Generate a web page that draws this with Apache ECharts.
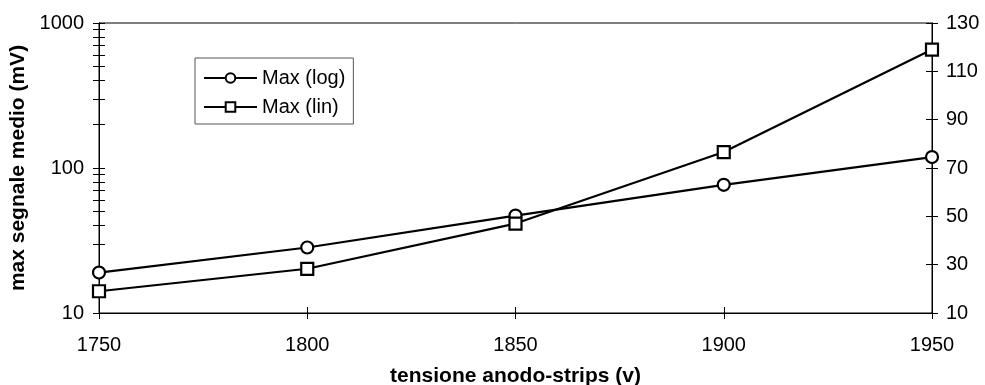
<!DOCTYPE html>
<html>
<head>
<meta charset="utf-8">
<script src="https://cdn.jsdelivr.net/npm/echarts@6/dist/echarts.min.js"></script>
<style>
  html, body { margin: 0; padding: 0; background: #ffffff; }
  #chart { width: 985px; height: 385px; }
</style>
</head>
<body>
<div id="chart"></div>
<script>
// Anode-strip voltage (V) and mean maximum signal (mV)
const voltages = [1750, 1800, 1850, 1900, 1950];
const maxSignal = [19, 28.3, 47, 76.6, 119];

// Tick positions for the logarithmic (left) axis: decades plus 2..9 subdivisions
const logLabelValues = [10, 100, 1000];
const logTickValues = [10, 20, 30, 40, 50, 60, 70, 80, 90,
                       100, 200, 300, 400, 500, 600, 700, 800, 900, 1000];

const FONT = "'Liberation Sans', Arial, Helvetica, sans-serif";
const points = voltages.map((v, i) => [v, maxSignal[i]]);

const tickStyle = { color: '#000', width: 1 };

function xAxisBase(extra) {
  return Object.assign({
    type: 'value', position: 'bottom', gridIndex: 0,
    min: 1750, max: 1950, interval: 50,
    splitLine: { show: false },
    axisLine: { show: true, lineStyle: { color: '#000', width: 1 } }
  }, extra);
}
function logAxisBase(extra) {
  return Object.assign({
    type: 'log', logBase: 10, position: 'left',
    min: 10, max: 1000,
    splitLine: { show: false },
    minorTick: { show: false },
    axisLine: { show: true, lineStyle: { color: '#000', width: 1 } }
  }, extra);
}
function linAxisBase(extra) {
  return Object.assign({
    type: 'value', position: 'right',
    min: 10, max: 130, interval: 20,
    splitLine: { show: false },
    axisLine: { show: true, lineStyle: { color: '#000', width: 1 } }
  }, extra);
}

const chart = echarts.init(document.getElementById('chart'), null, { renderer: 'canvas' });

chart.setOption({
  backgroundColor: '#ffffff',
  animation: false,
  textStyle: { fontFamily: FONT, color: '#000' },
  grid: {
    left: 99, right: 53, top: 23, bottom: 72,
    containLabel: false,
    outerBoundsMode: 'none',
    show: true, borderColor: '#000', borderWidth: 1, backgroundColor: 'transparent'
  },
  legend: {
    orient: 'vertical',
    left: 195, top: 58,
    backgroundColor: '#fff',
    borderColor: '#555', borderWidth: 1,
    padding: [10, 8, 7, 8],
    itemWidth: 53, itemHeight: 12, itemGap: 9,
    textStyle: { fontFamily: FONT, fontSize: 20, color: '#000' },
    data: ['Max (log)', 'Max (lin)']
  },
  xAxis: [
    xAxisBase({
      name: 'tensione anodo-strips (v)',
      nameLocation: 'middle', nameGap: 53,
      nameTextStyle: { fontFamily: FONT, fontSize: 21, fontWeight: 'bold', color: '#000' },
      axisTick: { show: true, inside: false, length: 6, lineStyle: tickStyle },
      axisLabel: { show: true, margin: 22, fontFamily: FONT, fontSize: 20, color: '#000',
                   formatter: v => String(v) }
    }),
    xAxisBase({
      axisTick: { show: true, inside: true, length: 6, lineStyle: tickStyle },
      axisLabel: { show: false }
    })
  ],
  yAxis: [
    logAxisBase({
      name: 'max segnale medio (mV)',
      nameLocation: 'middle', nameGap: 63,
      nameTextStyle: { fontFamily: FONT, fontSize: 21, fontWeight: 'bold', color: '#000' },
      axisTick: { show: true, inside: false, length: 6, lineStyle: tickStyle,
                  customValues: logTickValues },
      axisLabel: { show: true, margin: 15, fontFamily: FONT, fontSize: 20, color: '#000',
                   customValues: logLabelValues, formatter: v => String(v) }
    }),
    logAxisBase({
      axisTick: { show: true, inside: true, length: 6, lineStyle: tickStyle,
                  customValues: logTickValues },
      axisLabel: { show: false }
    }),
    linAxisBase({
      axisTick: { show: true, inside: false, length: 6, lineStyle: tickStyle },
      axisLabel: { show: true, margin: 14, fontFamily: FONT, fontSize: 20, color: '#000',
                   formatter: v => String(v) }
    }),
    linAxisBase({
      axisTick: { show: true, inside: true, length: 6, lineStyle: tickStyle },
      axisLabel: { show: false }
    })
  ],
  series: [
    {
      name: 'Max (log)', type: 'line',
      xAxisIndex: 0, yAxisIndex: 0,
      data: points,
      clip: false,
      symbol: 'circle', symbolSize: 12,
      lineStyle: { color: '#000', width: 2.2 },
      itemStyle: { color: '#fff', borderColor: '#000', borderWidth: 2.2 },
      emphasis: { disabled: true }
    },
    {
      name: 'Max (lin)', type: 'line',
      xAxisIndex: 0, yAxisIndex: 2,
      data: points,
      clip: false,
      symbol: 'rect', symbolSize: 12,
      lineStyle: { color: '#000', width: 2.2 },
      itemStyle: { color: '#fff', borderColor: '#000', borderWidth: 2.2 },
      emphasis: { disabled: true }
    }
  ]
});
</script>
</body>
</html>
